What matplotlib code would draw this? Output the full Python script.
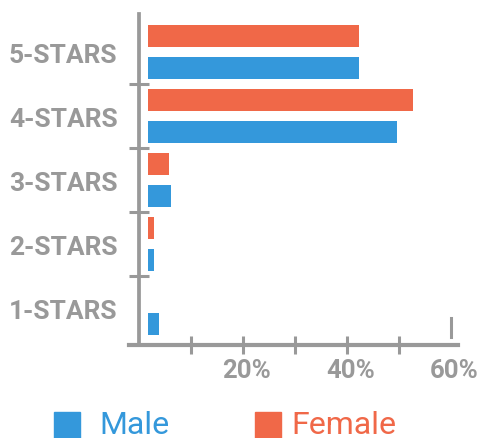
import matplotlib
matplotlib.use("Agg")
import matplotlib.pyplot as plt
from matplotlib.patches import Rectangle
from matplotlib.transforms import ScaledTranslation

plt.rcParams['font.family'] = ['Roboto', 'DejaVu Sans']

# data (percent of reviews)
categories = ['1-STARS', '2-STARS', '3-STARS', '4-STARS', '5-STARS']
male = [2.2, 1.2, 4.4, 47.9, 40.6]
female = [0.0, 1.2, 4.0, 51.0, 40.6]
xtick_vals = [10, 20, 30, 40, 50, 60]
xtick_labels = ['', '20%', '', '40%', '', '60%']

BLUE = '#3498db'
ORANGE = '#f06848'
GREY = '#999999'

fig = plt.figure(figsize=(4.82, 4.39), dpi=100)
ax = fig.add_axes([129 / 482, 93 / 439, 329 / 482, 331 / 439])

ypos = list(range(len(categories)))
bar_h = 0.344
gap = 1.83  # bars start a little right of the axis
ax.barh([y - 0.25 for y in ypos], male, height=bar_h, left=gap, color=BLUE)
ax.barh([y + 0.25 for y in ypos], female, height=bar_h, left=gap,
        color=ORANGE)

ax.set_xlim(-1.83, 61.44)
ax.set_ylim(-0.578, 4.6)

for side in ['top', 'right']:
    ax.spines[side].set_visible(False)
ax.spines['left'].set_position(('data', 0))
ax.spines['left'].set_color(GREY)
ax.spines['left'].set_linewidth(2.7)
ax.spines['bottom'].set_color(GREY)
ax.spines['bottom'].set_linewidth(3.0)

# y axis: labels at band centres, ticks at band edges
ax.set_yticks(ypos)
ax.set_yticklabels(categories, fontsize=19, fontweight='bold', color=GREY)
ax.tick_params(axis='y', which='major', length=0, pad=15)
ax.set_yticks([y + 0.5 for y in ypos[:-1]], minor=True)
ax.tick_params(axis='y', which='minor', direction='inout', length=14.4,
               width=2.2, color=GREY)

# x axis
ax.set_xticks(xtick_vals)
ax.set_xticklabels(xtick_labels, fontsize=18.5, fontweight='bold',
                   color=GREY)
ax.tick_params(axis='x', direction='inout', length=13, width=2.2,
               color=GREY, pad=3)
shift = ScaledTranslation(4 / 100, 0, fig.dpi_scale_trans)
for lbl in ax.get_xticklabels():
    lbl.set_transform(lbl.get_transform() + shift)
ax.xaxis.get_major_ticks()[-1].tick1line.set_visible(False)
ax.axvline(xtick_vals[-1], ymin=0.024, ymax=0.082, color=GREY, lw=2.2)

# legend
for x0, tx, txt, col in [(54, 99, 'Male', BLUE), (255, 291, 'Female', ORANGE)]:
    fig.patches.append(Rectangle((x0 / 482, 0), 26 / 482, 26 / 439,
                                 transform=fig.transFigure, color=col))
    fig.text(tx / 482, 13 / 439, txt, fontsize=23, color=col,
             va='center', ha='left')

fig.savefig('out.png', dpi=100)
